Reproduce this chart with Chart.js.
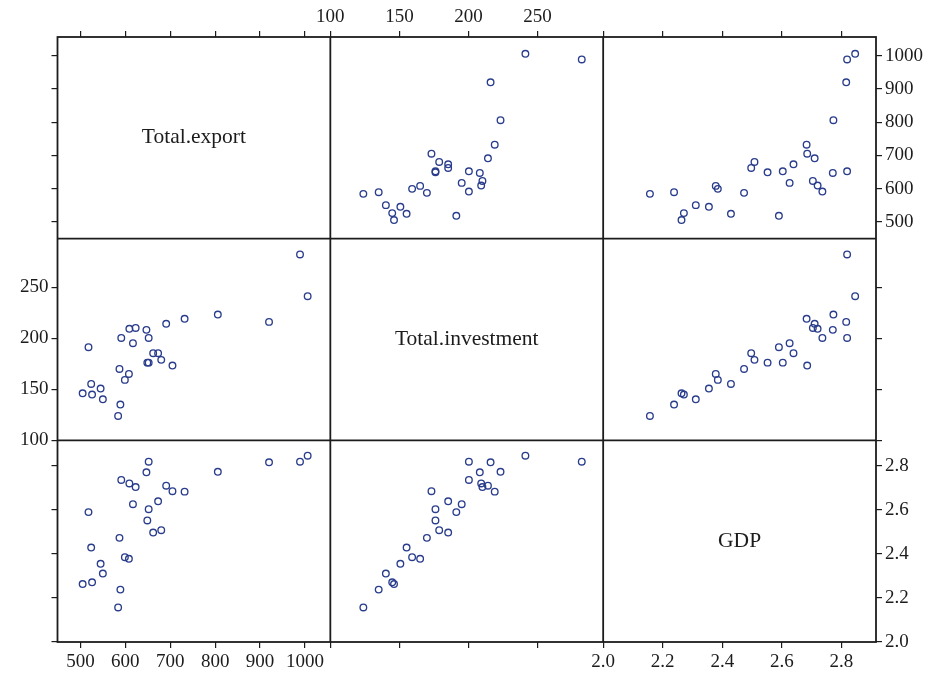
<!DOCTYPE html>
<html>
<head>
<meta charset="utf-8">
<title>Scatterplot matrix: Total.export, Total.investment, GDP</title>
<script src="https://cdn.jsdelivr.net/npm/chart.js@4.4.1/dist/chart.umd.min.js"></script>
<style>
  html, body { margin: 0; padding: 0; background: #ffffff; }
  canvas { display: block; }
</style>
</head>
<body>
<canvas id="splom" width="932" height="682"></canvas>
<script>
// Variable names shown on the diagonal
const variables = ['Total.export', 'Total.investment', 'GDP'];

// Observations (one entry per year, same order in every array)
const totalExport = [584, 589, 505, 526, 550, 545, 608, 599, 524, 587,
                     662, 680, 649, 518, 652, 617, 673, 732, 705, 623,
                     691, 609, 591, 647, 806, 920, 989, 652, 1006];
const totalInvestment = [123.9, 135.0, 146.1, 144.8, 140.2, 150.7, 165.0, 159.2, 155.2, 169.9,
                         185.3, 178.8, 176.1, 191.2, 176.1, 195.1, 185.3, 219.0, 173.2, 210.1,
                         214.1, 209.2, 200.3, 208.2, 223.2, 216.0, 282.0, 200.3, 241.2];
const gdp = [2.157, 2.238, 2.263, 2.271, 2.311, 2.355, 2.378, 2.385, 2.429, 2.473,
             2.497, 2.508, 2.552, 2.590, 2.603, 2.626, 2.639, 2.683, 2.685, 2.704,
             2.710, 2.720, 2.736, 2.771, 2.773, 2.816, 2.819, 2.819, 2.846];

// Tick values and axis limits for each variable
const exportTicks = [500, 600, 700, 800, 900, 1000];
const investmentTicks = [100, 150, 200, 250];
const gdpTicks = [2.0, 2.2, 2.4, 2.6, 2.8];
const exportRange = [449, 1056.5];
const investmentRange = [100, 297.5];
const gdpRange = [2.0, 2.916];

const vars = [
  { values: totalExport, ticks: exportTicks, range: exportRange, fmt: v => String(v) },
  { values: totalInvestment, ticks: investmentTicks, range: investmentRange, fmt: v => String(v) },
  { values: gdp, ticks: gdpTicks, range: gdpRange, fmt: v => v.toFixed(1) }
];

const INK = '#1c1c1c';
const POINT = '#2a3d8c';
const FONT = "'Liberation Serif', 'Times New Roman', serif";

// Outer margins around the grid of panels
const margin = { left: 57.5, right: 56, top: 37, bottom: 40 };

// One linear axis segment of the stacked outer axes
function makeAxis(v, position, order, labelled) {
  const horizontal = position === 'top' || position === 'bottom';
  return {
    type: 'linear',
    axis: horizontal ? 'x' : 'y',
    position: position,
    stack: 'outer',
    stackWeight: 1,
    weight: order,
    min: v.range[0],
    max: v.range[1],
    afterBuildTicks: s => { s.ticks = v.ticks.map(t => ({ value: t })); },
    afterFit: s => {
      if (horizontal) s.height = margin[position];
      else s.width = margin[position];
    },
    border: { display: false },
    grid: {
      display: true,
      drawOnChartArea: false,
      drawTicks: true,
      tickLength: 6,
      color: INK,
      lineWidth: 1.2
    },
    ticks: {
      autoSkip: false,
      maxRotation: 0,
      minRotation: 0,
      padding: 3,
      color: INK,
      font: { family: FONT, size: 19 },
      callback: val => labelled ? v.fmt(val) : ''
    }
  };
}

// Outer axes: labels alternate between the sides of the matrix
const scales = {};
[0, 1, 2].forEach(i => {
  scales['b' + i] = makeAxis(vars[i], 'bottom', i + 1, i !== 1);
  scales['t' + i] = makeAxis(vars[i], 'top', 3 - i, i === 1);
  scales['l' + i] = makeAxis(vars[i], 'left', 3 - i, i === 1);
  scales['r' + i] = makeAxis(vars[i], 'right', i + 1, i !== 1);
});

// Off-diagonal panels as [row, column]
const cells = [[0, 1], [0, 2], [1, 0], [1, 2], [2, 0], [2, 1]];
const datasets = cells.map(([r, c]) => ({
  label: variables[r] + ' vs ' + variables[c],
  data: vars[c].values.map((x, i) => ({ x: x, y: vars[r].values[i] })),
  xAxisID: 'b' + c,
  yAxisID: 'l' + r,
  showLine: false,
  pointRadius: 3.3,
  pointHoverRadius: 3.3,
  pointBorderWidth: 1.35,
  pointBorderColor: POINT,
  pointBackgroundColor: 'rgba(0,0,0,0)'
}));

// Panel frame and the variable names on the diagonal
const matrixFrame = {
  id: 'matrixFrame',
  afterDatasetsDraw(chart) {
    const { ctx, chartArea: a, scales: s } = chart;
    ctx.save();
    ctx.strokeStyle = INK;
    ctx.lineWidth = 1.8;
    ctx.strokeRect(a.left, a.top, a.right - a.left, a.bottom - a.top);
    ctx.beginPath();
    [s.b1.left, s.b2.left].forEach(x => { ctx.moveTo(x, a.top); ctx.lineTo(x, a.bottom); });
    [s.l1.top, s.l2.top].forEach(y => { ctx.moveTo(a.left, y); ctx.lineTo(a.right, y); });
    ctx.stroke();
    ctx.fillStyle = INK;
    ctx.font = '21.5px ' + FONT;
    ctx.textAlign = 'center';
    ctx.textBaseline = 'middle';
    variables.forEach((name, i) => {
      const xs = s['b' + i], ys = s['l' + i];
      ctx.fillText(name, (xs.left + xs.right) / 2, (ys.top + ys.bottom) / 2);
    });
    ctx.restore();
  }
};

new Chart(document.getElementById('splom'), {
  type: 'scatter',
  data: { datasets: datasets },
  options: {
    responsive: false,
    animation: false,
    devicePixelRatio: 1,
    layout: { padding: 0 },
    scales: scales,
    plugins: {
      legend: { display: false },
      tooltip: { enabled: false },
      title: { display: false }
    },
    events: []
  },
  plugins: [matrixFrame]
});
</script>
</body>
</html>
